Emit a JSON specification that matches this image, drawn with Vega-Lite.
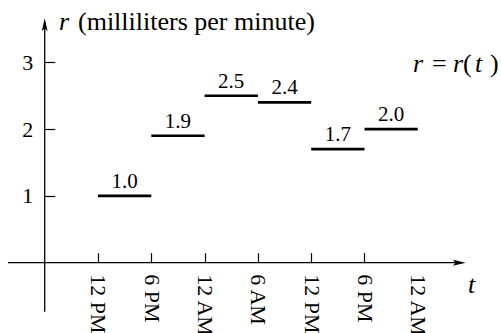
{
  "$schema": "https://vega.github.io/schema/vega-lite/v6.json",
  "width": 501,
  "height": 333,
  "padding": 0,
  "autosize": {"type": "none"},
  "background": "white",
  "config": {"view": {"stroke": null}},
  "datasets": {
    "segments": [
      {"start": 6, "end": 12, "r": 1.0, "label": "1.0"},
      {"start": 12, "end": 18, "r": 1.9, "label": "1.9"},
      {"start": 18, "end": 24, "r": 2.5, "label": "2.5"},
      {"start": 24, "end": 30, "r": 2.4, "label": "2.4"},
      {"start": 30, "end": 36, "r": 1.7, "label": "1.7"},
      {"start": 36, "end": 42, "r": 2.0, "label": "2.0"}
    ],
    "axislines": [
      {"x": -4.13, "x2": 47.0, "y": 0, "y2": 0},
      {"x": 0, "x2": 0, "y": -0.734, "y2": 3.6}
    ],
    "arrows": [
      {"x": 47.4, "y": 0, "angle": 0},
      {"x": 0, "y": 3.66, "angle": -90}
    ],
    "italic": [
      {"x": 1.61, "y": 3.491, "text": "r"},
      {"x": 41.46, "y": 2.862, "text": "r"},
      {"x": 45.96, "y": 2.862, "text": "r"},
      {"x": 48.44, "y": 2.862, "text": "t"},
      {"x": 47.65, "y": -0.452, "text": "t"}
    ],
    "roman": [
      {"x": 3.75, "y": 3.491, "text": "(milliliters per minute)"},
      {"x": 43.6, "y": 2.862, "text": "="},
      {"x": 47.09, "y": 2.862, "text": "("},
      {"x": 50.13, "y": 2.862, "text": ")"}
    ]
  },
  "layer": [
    {
      "data": {"name": "segments"},
      "mark": {"type": "rule", "strokeWidth": 2.6, "color": "black", "strokeCap": "butt"},
      "encoding": {
        "x": {
          "field": "start", "type": "quantitative",
          "scale": {"domain": [-5.032, 51.368], "nice": false, "zero": false},
          "axis": {
            "orient": "bottom", "offset": -70.3, "values": [6, 12, 18, 24, 30, 36, 42],
            "labelExpr": "['12 PM','6 PM','12 AM','6 AM','12 PM','6 PM','12 AM'][round(datum.value/6)-1]",
            "labelAngle": 90, "labelAlign": "left", "labelBaseline": "middle",
            "labelFont": "Liberation Serif", "labelFontSize": 22, "labelColor": "black",
            "labelPadding": 21, "labelFlush": false, "labelOverlap": false,
            "tickSize": -10, "tickWidth": 1.2, "tickColor": "black",
            "tickOpacity": {"condition": {"test": "datum.value > 40", "value": 0}, "value": 1},
            "domain": false, "grid": false, "title": null
          }
        },
        "x2": {"field": "end"},
        "y": {
          "field": "r", "type": "quantitative",
          "scale": {"domain": [-1.0524, 3.933], "nice": false, "zero": false},
          "axis": {
            "orient": "left", "offset": -44.7, "values": [1, 2, 3], "format": "d",
            "labelFont": "Liberation Serif", "labelFontSize": 22, "labelColor": "black",
            "labelPadding": 22, "labelFlush": false, "labelBaseline": "middle",
            "tickSize": -10, "tickWidth": 1.2, "tickColor": "black",
            "domain": false, "grid": false, "title": null
          }
        }
      }
    },
    {
      "data": {"name": "segments"},
      "transform": [{"calculate": "(datum.start + datum.end) / 2", "as": "mid"}],
      "mark": {"type": "text", "font": "Liberation Serif", "fontSize": 21, "color": "black", "align": "center", "baseline": "alphabetic", "dy": -8},
      "encoding": {
        "x": {"field": "mid", "type": "quantitative"},
        "y": {"field": "r", "type": "quantitative"},
        "text": {"field": "label"}
      }
    },
    {
      "data": {"name": "axislines"},
      "mark": {"type": "rule", "strokeWidth": 1.3, "color": "black"},
      "encoding": {
        "x": {"field": "x", "type": "quantitative"},
        "x2": {"field": "x2"},
        "y": {"field": "y", "type": "quantitative"},
        "y2": {"field": "y2"}
      }
    },
    {
      "data": {"name": "arrows"},
      "mark": {"type": "point", "filled": true, "color": "black", "opacity": 1, "size": 169, "strokeWidth": 0,
               "shape": "M0,0 L-2,-0.45 L-1.55,0 L-2,0.45 Z"},
      "encoding": {
        "x": {"field": "x", "type": "quantitative"},
        "y": {"field": "y", "type": "quantitative"},
        "angle": {"field": "angle", "type": "quantitative", "scale": null}
      }
    },
    {
      "data": {"name": "italic"},
      "mark": {"type": "text", "font": "Liberation Serif", "fontStyle": "italic", "fontSize": 26, "color": "black", "align": "left", "baseline": "alphabetic"},
      "encoding": {
        "x": {"field": "x", "type": "quantitative"},
        "y": {"field": "y", "type": "quantitative"},
        "text": {"field": "text"}
      }
    },
    {
      "data": {"name": "roman"},
      "mark": {"type": "text", "font": "Liberation Serif", "fontSize": 26, "color": "black", "align": "left", "baseline": "alphabetic"},
      "encoding": {
        "x": {"field": "x", "type": "quantitative"},
        "y": {"field": "y", "type": "quantitative"},
        "text": {"field": "text"}
      }
    }
  ]
}
